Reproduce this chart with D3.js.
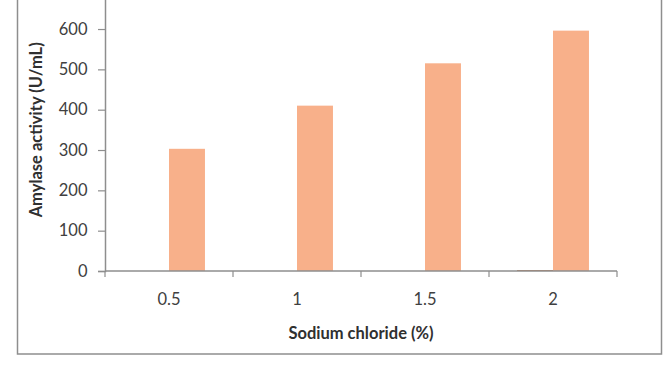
<!DOCTYPE html>
<html><head><meta charset="utf-8">
<script src="https://cdn.jsdelivr.net/npm/d3@7"></script>
<style>body{margin:0;background:#fff}svg{display:block}</style>
</head><body>
<svg id="c" width="672" height="372"></svg>
<script>
const categories = ["0.5", "1", "1.5", "2"];
const seriesNames = ["Series1", "Series2"];
const series1 = [0, 0, 0, 2];
const series2 = [303, 410, 515, 596];
const yTicks = [0, 100, 200, 300, 400, 500, 600];
const colors = ["#b4602f", "#f8b08a"];

const svg = d3.select("#c");
const W = 672, H = 372;
const m = {left: 105, right: 55, top: -11.3, bottom: 101};
const x0 = d3.scaleBand().domain(categories).range([m.left, W - m.right]).paddingInner(0).paddingOuter(0);
const bw = x0.bandwidth();
const x1 = d3.scaleBand().domain(seriesNames).range([bw * 0.219, bw * 0.781]);
const y = d3.scaleLinear().domain([0, 700]).range([H - m.bottom, m.top]);

// frame
svg.append("rect").attr("x", 17.5).attr("y", -5).attr("width", 644).attr("height", 359)
  .attr("fill", "none").attr("stroke", "#8e8e8e").attr("stroke-width", 1.5);

const data = categories.map((c, i) => ({cat: c, vals: [series1[i], series2[i]]}));
const g = svg.append("g");
g.selectAll("g.grp").data(data).join("g").attr("class", "grp")
  .attr("transform", d => `translate(${x0(d.cat)},0)`)
  .selectAll("rect").data(d => d.vals.map((v, j) => ({s: seriesNames[j], v, j})))
  .join("rect")
  .attr("x", d => x1(d.s)).attr("width", x1.bandwidth())
  .attr("y", d => y(d.v)).attr("height", d => y(0) - y(d.v))
  .attr("fill", d => colors[d.j]);

const font = "Lato, 'Open Sans', sans-serif";
// y axis
const ya = svg.append("g").attr("transform", `translate(${m.left},0)`)
  .call(d3.axisLeft(y).tickValues(yTicks).tickSize(7).tickPadding(10.5));
// x axis
const xa = svg.append("g").attr("transform", `translate(0,${y(0)})`)
  .call(d3.axisBottom(x0).tickSize(0).tickPadding(22));
xa.select(".domain").remove();
const xTickPos = d3.range(categories.length + 1).map(i => m.left + i * bw);
xa.selectAll("line.tk").data(xTickPos).join("line").attr("class", "tk")
  .attr("x1", d => d).attr("x2", d => d).attr("y1", 0).attr("y2", 6)
  .attr("stroke", "#8e8e8e").attr("stroke-width", 1.2);
xa.append("line").attr("x1", m.left).attr("x2", W - m.right).attr("stroke", "#8e8e8e").attr("stroke-width", 1.5);

[ya, xa].forEach(a => {
  a.selectAll(".domain").attr("stroke", "#8e8e8e").attr("stroke-width", 1.5);
  a.selectAll(".tick line").attr("stroke", "#8e8e8e").attr("stroke-width", 1.2);
  a.selectAll("text").attr("fill", "#404040").style("font-family", font).style("font-size", "16.5px");
});

svg.append("text").attr("x", (m.left + W - m.right) / 2).attr("y", 339)
  .attr("text-anchor", "middle").attr("fill", "#303030")
  .style("font-family", font).style("font-weight", "bold").style("font-size", "16.5px")
  .text("Sodium chloride (%)");
svg.append("text").attr("transform", `translate(42,${(y(0) + m.top) / 2}) rotate(-90)`)
  .attr("text-anchor", "middle").attr("fill", "#303030")
  .style("font-family", font).style("font-weight", "bold").style("font-size", "16.5px")
  .text("Amylase activity (U/mL)");
</script>
</body></html>
